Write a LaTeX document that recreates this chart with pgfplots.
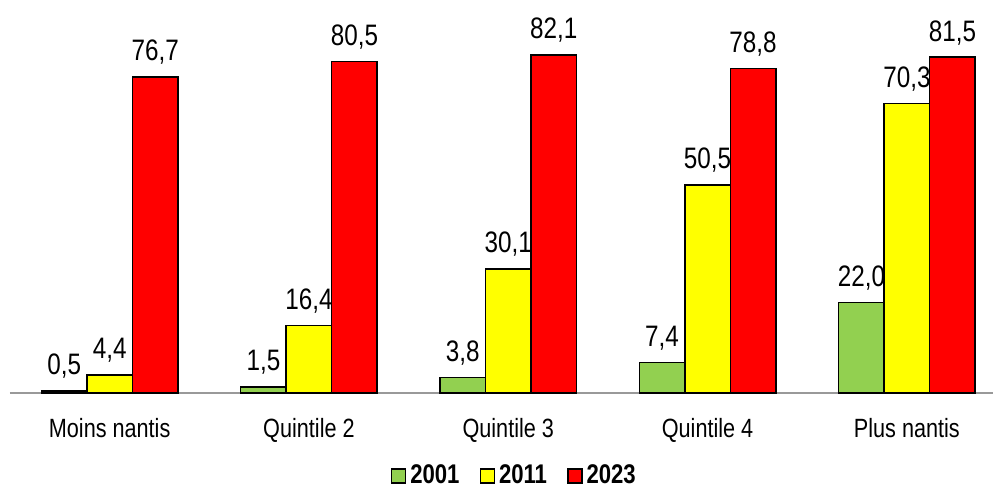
\documentclass[border=0pt]{standalone}
\usepackage{pgfplots}
\pgfplotsset{compat=1.18}
\usepackage{fontspec}
\setmainfont{Liberation Sans}[FakeStretch=0.82]
\definecolor{cgreen}{HTML}{92D050}
\definecolor{cyellow}{HTML}{FFFF00}
\definecolor{cred}{HTML}{FF0000}
\begin{document}
\begin{tikzpicture}
\path[use as bounding box] (0,0) rectangle (496.5pt,244.5pt);
\begin{axis}[
  at={(5pt,48pt)}, anchor=south west,
  scale only axis,
  width=491.5pt, height=195.7pt,
  xmin=-0.5, xmax=4.432,
  ymin=0, ymax=95,
  ybar=0pt, bar width=22.75pt,
  axis x line=bottom,
  axis y line=none,
  x axis line style={draw=gray!80, line width=1pt, -},
  xtick={0,1,2,3,4},
  xticklabels={Moins nantis, Quintile 2, Quintile 3, Quintile 4, Plus nantis},
  xtick style={draw=none},
  xticklabel style={font=\fontsize{13.2}{15}\selectfont, yshift=-7pt},
  nodes near coords,
  nodes near coords style={font=\fontsize{14.8}{16}\selectfont, text=black, yshift=2.5pt,
    /pgf/number format/.cd, fixed, fixed zerofill, precision=1, use comma, assume math mode=true},
  every axis plot/.append style={draw=black, line width=0.75pt},
  legend style={at={(0.514,-0.212)}, anchor=center, draw=none, legend columns=-1,
    inner sep=1pt,
    font=\bfseries\fontsize{13.5}{15}\selectfont,
    /tikz/every even column/.append style={column sep=8pt}},
  legend image code/.code={\draw[#1, line width=0.75pt] (0pt,-3.5pt) rectangle (7pt,3.5pt);},
  clip=false,
]
\addplot[fill=cgreen] coordinates {(0,0.5) (1,1.5) (2,3.8) (3,7.4) (4,22.0)};
\addplot[fill=cyellow] coordinates {(0,4.4) (1,16.4) (2,30.1) (3,50.5) (4,70.3)};
\addplot[fill=cred] coordinates {(0,76.7) (1,80.5) (2,82.1) (3,78.8) (4,81.5)};
\legend{2001, 2011, 2023}
\end{axis}
\end{tikzpicture}
\end{document}
